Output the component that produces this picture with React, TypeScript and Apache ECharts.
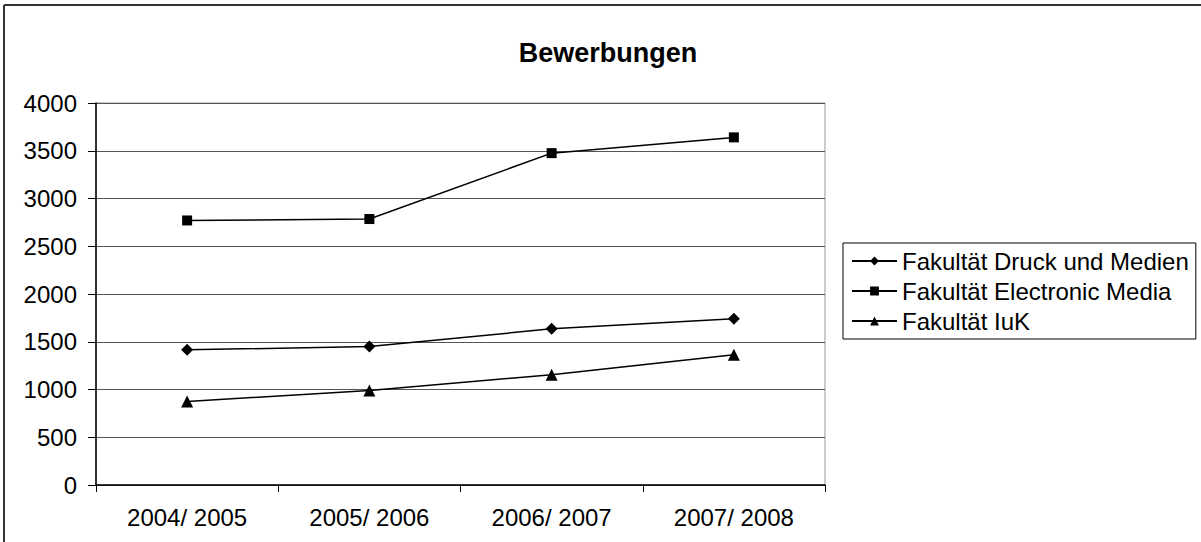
import React, { useEffect, useRef } from "react";
import * as echarts from "echarts";

const categories = ["2004/ 2005", "2005/ 2006", "2006/ 2007", "2007/ 2008"];
const druckMedien = [1415, 1450, 1635, 1740];
const electronicMedia = [2770, 2785, 3475, 3640];
const iuk = [875, 990, 1155, 1365];
const seriesNames = ["Fakultät Druck und Medien", "Fakultät Electronic Media", "Fakultät IuK"];
const title = "Bewerbungen";

const FONT = "'Liberation Sans', Arial, sans-serif";

export default function App() {
  const ref = useRef<HTMLDivElement>(null);
  useEffect(() => {
    if (!ref.current) return;
    const chart = echarts.init(ref.current, null, { renderer: "svg" });
    const mk = (name: string, data: number[], symbol: string, size: number) => ({
      name,
      type: "line",
      data,
      symbol,
      symbolSize: size,
      showSymbol: true,
      lineStyle: { color: "#000", width: 1.5 },
      itemStyle: { color: "#000" },
      emphasis: { disabled: true },
    });
    chart.setOption({
      animation: false,
      textStyle: { fontFamily: FONT },
      title: {
        text: title,
        left: 603,
        top: 34,
        textAlign: "center",
        textStyle: { fontFamily: FONT, fontSize: 27, fontWeight: "bold", color: "#000" },
      },
      legend: {
        orient: "vertical",
        left: 843,
        top: 243,
        borderColor: "#000",
        borderWidth: 1,
        padding: [6, 7, 6, 8],
        itemWidth: 45,
        itemHeight: 11,
        itemGap: 6,
        textStyle: { fontFamily: FONT, fontSize: 24, color: "#000" },
        data: seriesNames,
      },
      grid: {
        left: 96,
        top: 103,
        right: 376,
        bottom: 57,
        show: true,
        borderColor: "#999",
        borderWidth: 1,
        backgroundColor: "#fff",
      },
      xAxis: {
        type: "category",
        data: categories,
        boundaryGap: true,
        axisLine: { lineStyle: { color: "#000", width: 1.5 } },
        axisTick: { show: true, length: 7, alignWithLabel: false, lineStyle: { color: "#000" } },
        axisLabel: { fontFamily: FONT, fontSize: 24, color: "#000", margin: 20 },
      },
      yAxis: {
        type: "value",
        min: 0,
        max: 4000,
        interval: 500,
        axisLine: { show: true, lineStyle: { color: "#000", width: 1.5 } },
        axisTick: { show: true, length: 8, lineStyle: { color: "#000" } },
        axisLabel: {
          fontFamily: FONT,
          fontSize: 24,
          color: "#000",
          margin: 19,
          formatter: (v: number) => String(v),
        },
        splitLine: { show: true, lineStyle: { color: "#555", width: 1 } },
      },
      graphic: [
        { type: "line", shape: { x1: 4, y1: 5, x2: 1201, y2: 5 }, style: { stroke: "#333", lineWidth: 2 } },
        { type: "line", shape: { x1: 4, y1: 5, x2: 4, y2: 542 }, style: { stroke: "#333", lineWidth: 2 } },
      ],
      series: [
        mk(seriesNames[0], druckMedien, "diamond", 12),
        mk(seriesNames[1], electronicMedia, "rect", 10),
        mk(seriesNames[2], iuk, "triangle", 12),
      ],
    });
    return () => chart.dispose();
  }, []);
  return <div ref={ref} style={{ width: 1201, height: 542, position: "absolute", left: 0, top: 0 }} />;
}
